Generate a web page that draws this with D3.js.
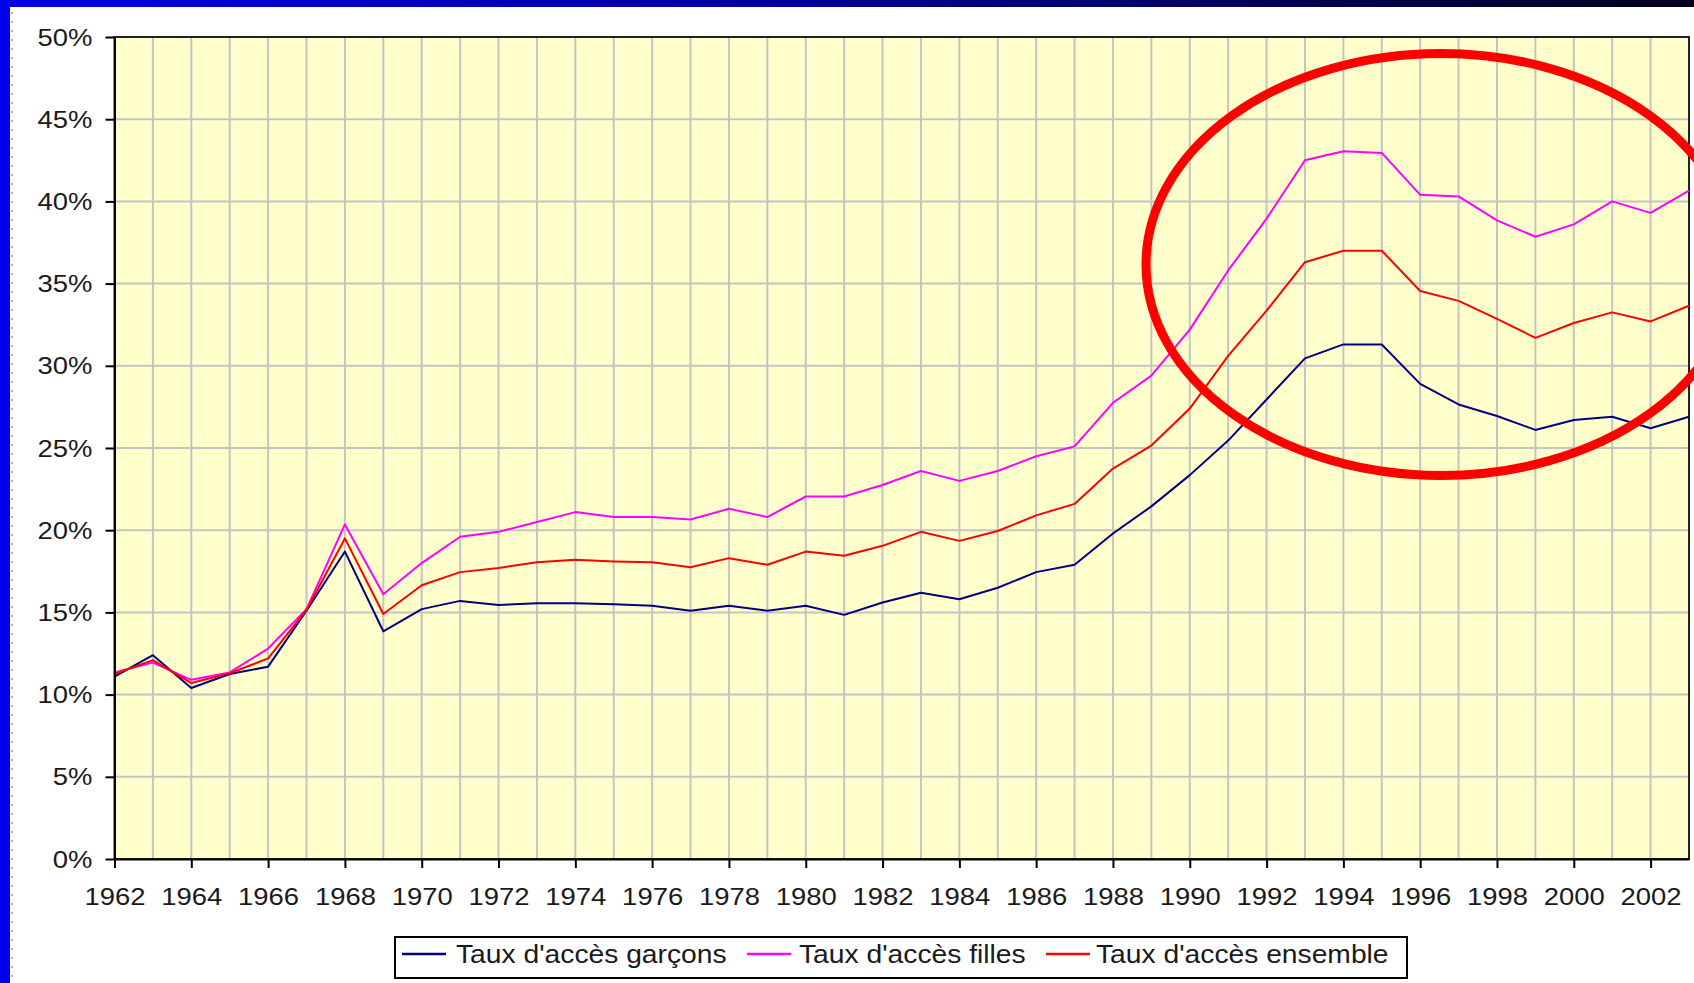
<!DOCTYPE html>
<html><head><meta charset="utf-8">
<script src="https://cdn.jsdelivr.net/npm/d3@7"></script>
<style>html,body{margin:0;padding:0;background:#fff;overflow:hidden}</style>
</head><body>
<svg id="c" width="1694" height="983"></svg>
<script>
// ---------- DATA ----------
const years = [1962,1963,1964,1965,1966,1967,1968,1969,1970,1971,1972,1973,1974,1975,1976,1977,1978,1979,1980,1981,1982,1983,1984,1985,1986,1987,1988,1989,1990,1991,1992,1993,1994,1995,1996,1997,1998,1999,2000,2001,2002,2003];
const garcons = [11.1,12.4,10.4,11.25,11.7,15.1,18.7,13.85,15.2,15.7,15.45,15.55,15.55,15.5,15.4,15.1,15.4,15.1,15.4,14.85,15.6,16.2,15.8,16.5,17.45,17.9,19.8,21.45,23.35,25.45,27.95,30.45,31.3,31.3,28.9,27.65,26.95,26.1,26.7,26.9,26.2,26.9];
const filles = [11.35,11.95,10.9,11.35,12.8,15.2,20.35,16.1,18.0,19.6,19.9,20.5,21.1,20.8,20.8,20.65,21.3,20.8,22.05,22.05,22.75,23.6,23.0,23.6,24.5,25.1,27.75,29.4,32.2,35.8,38.95,42.5,43.05,42.95,40.4,40.3,38.85,37.85,38.6,40.0,39.3,40.65];
const ensemble = [11.25,12.1,10.7,11.3,12.2,15.15,19.5,14.9,16.65,17.45,17.7,18.05,18.2,18.1,18.05,17.75,18.3,17.9,18.7,18.45,19.05,19.9,19.35,19.95,20.9,21.6,23.75,25.15,27.4,30.6,33.35,36.3,37.0,37.0,34.55,33.95,32.85,31.7,32.6,33.25,32.7,33.65];
const seriesNames = ["Taux d'accès garçons", "Taux d'accès filles", "Taux d'accès ensemble"];
const seriesColors = ["#000080", "#ff00ff", "#ff0000"];
const yTickValues = [0,5,10,15,20,25,30,35,40,45,50];
const xTickYears = [1962,1964,1966,1968,1970,1972,1974,1976,1978,1980,1982,1984,1986,1988,1990,1992,1994,1996,1998,2000,2002];

// ---------- LAYOUT ----------
const W = 1694, H = 983;
const P = {left: 114.5, right: 1689, top: 37, bottom: 859};
const FONT = "'Liberation Sans', Arial, Helvetica, sans-serif";
const SX = 1.12; // horizontal stretch of the original text

const svg = d3.select("#c");
const defs = svg.append("defs");
const grad = defs.append("linearGradient").attr("id","topbar").attr("x1","0").attr("x2","1").attr("y1","0").attr("y2","0");
grad.append("stop").attr("offset","0%").attr("stop-color","#0000e6");
grad.append("stop").attr("offset","55%").attr("stop-color","#00008a");
grad.append("stop").attr("offset","100%").attr("stop-color","#00001e");

svg.append("rect").attr("width",W).attr("height",H).attr("fill","#ffffff");
svg.append("rect").attr("x",0).attr("y",0).attr("width",W).attr("height",7).attr("fill","url(#topbar)");
svg.append("rect").attr("x",0).attr("y",0).attr("width",10).attr("height",H).attr("fill","#0000ee");
svg.append("line").attr("x1",12).attr("x2",12).attr("y1",12).attr("y2",H)
  .attr("stroke","#9a9a9a").attr("stroke-width",1.5).attr("stroke-dasharray","2,7");

const x = d3.scalePoint().domain(years).range([P.left, P.right]).padding(0);
const y = d3.scaleLinear().domain([0, 50]).range([P.bottom, P.top]);

// plot background
svg.append("rect").attr("x",P.left).attr("y",P.top)
  .attr("width",P.right-P.left).attr("height",P.bottom-P.top).attr("fill","#ffffcc");

// gridlines
const grid = svg.append("g").attr("stroke","#c4c4c4").attr("stroke-width",2);
grid.selectAll("line.v").data(years.slice(1)).join("line")
  .attr("x1",d=>x(d)).attr("x2",d=>x(d)).attr("y1",P.top).attr("y2",P.bottom);
grid.selectAll("line.h").data(yTickValues.slice(1)).join("line")
  .attr("x1",P.left).attr("x2",P.right).attr("y1",d=>y(d)).attr("y2",d=>y(d));

// plot border
svg.append("rect").attr("x",P.left).attr("y",P.top)
  .attr("width",P.right-P.left).attr("height",P.bottom-P.top)
  .attr("fill","none").attr("stroke","#222").attr("stroke-width",2);

// series lines
const series = [garcons, filles, ensemble];
const line = d3.line().x((d,i)=>x(years[i])).y(d=>y(d));
series.forEach((s,k)=>{
  svg.append("path").datum(s).attr("d",line).attr("fill","none")
    .attr("stroke",seriesColors[k]).attr("stroke-width",2).attr("stroke-linejoin","round");
});

// axes
const yAxis = svg.append("g").attr("transform",`translate(${P.left},0)`)
  .call(d3.axisLeft(y).tickValues(yTickValues).tickSize(9).tickSizeOuter(0).tickFormat(d=>d+"%"));
const xAxis = svg.append("g").attr("transform",`translate(0,${P.bottom})`)
  .call(d3.axisBottom(x).tickValues(xTickYears).tickSize(9).tickSizeOuter(0));
[yAxis,xAxis].forEach(a=>{
  a.select(".domain").attr("stroke","#000").attr("stroke-width",2);
  a.selectAll(".tick line").attr("stroke","#000").attr("stroke-width",2);
  a.selectAll(".tick text").attr("fill","#1a1a1a").style("font-family",FONT).style("font-size","24.5px");
});
yAxis.selectAll(".tick text").attr("x",0).attr("dy","0.33em").attr("transform",`translate(-22,0) scale(${SX},1)`);
xAxis.selectAll(".tick text").attr("y",0).attr("dy",0).attr("transform",`translate(0,46) scale(${SX},1)`);

// legend
const lg = svg.append("g");
lg.append("rect").attr("x",395).attr("y",937).attr("width",1012).attr("height",41)
  .attr("fill","#fff").attr("stroke","#000").attr("stroke-width",2);
const lineStarts = [402, 747, 1046];
const textStarts = [456, 799, 1096];
seriesNames.forEach((n,k)=>{
  lg.append("line").attr("x1",lineStarts[k]).attr("x2",lineStarts[k]+44).attr("y1",954).attr("y2",954)
    .attr("stroke",seriesColors[k]).attr("stroke-width",2.5);
  lg.append("text").attr("transform",`translate(${textStarts[k]},963) scale(1.13,1)`)
    .style("font-family",FONT).style("font-size","25px").attr("fill","#1a1a1a").text(n);
});

// red highlight ellipse
svg.append("ellipse").attr("cx",1441).attr("cy",264.5).attr("rx",295).attr("ry",211)
  .attr("fill","none").attr("stroke","#ff0000").attr("stroke-width",9);
</script>
</body></html>
